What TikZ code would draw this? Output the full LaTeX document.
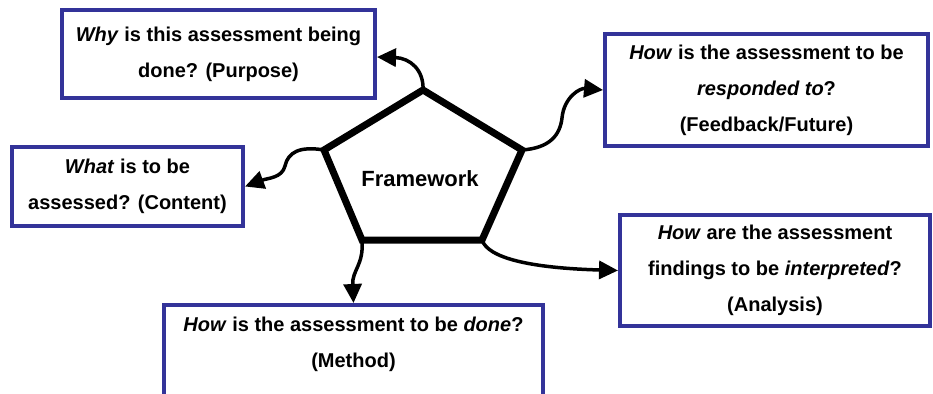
\documentclass[tikz,border=0pt]{standalone}
\usepackage{fontspec}
\setmainfont{Liberation Sans}
\usepackage{xcolor}
\usepackage{tikz}
\usetikzlibrary{arrows.meta}
\definecolor{qblue}{RGB}{51,51,153}
\tikzset{
  qbox/.style={draw=qblue,line width=4pt,fill=white,align=center,
              font=\fontsize{20}{36}\selectfont\bfseries,inner sep=0pt},
  pent/.style={line width=7pt,line join=miter},
  link/.style={-{Triangle[length=19pt,width=18pt]},line width=3.5pt},
}

\begin{document}
\begin{tikzpicture}[x=1pt,y=-1pt]
  \useasboundingbox (0,0) rectangle (933,393);
  % pentagon corners
  \coordinate (ptop) at (423,90);
  \coordinate (pright) at (522,150);
  \coordinate (pbr) at (482,240);
  \coordinate (pbl) at (362,240);
  \coordinate (pleft) at (324,150);
  \draw[pent] (ptop) -- (pright) -- (pbr) -- (pbl) -- (pleft) -- cycle;
  \node[font=\fontsize{22}{26}\selectfont\bfseries] (fw) at (420,179) {Framework};

  % the five questions
  \node[qbox,minimum width=313pt,minimum height=88pt] (why) at (218.5,54)
    {\textit{Why} is this assessment being\\done? (Purpose)};
  \node[qbox,minimum width=323pt,minimum height=112pt] (resp) at (766.5,90)
    {\textit{How} is the assessment to be\\\textit{responded to}?\\(Feedback/Future)};
  \node[qbox,minimum width=231pt,minimum height=79pt] (what) at (127.5,186.5)
    {\textit{What} is to be\\assessed? (Content)};
  \node[qbox,minimum width=379pt,minimum height=110pt] (method) at (353.5,360)
    {\textit{How} is the assessment to be \textit{done}?\\(Method)\\\mbox{}};
  \node[qbox,minimum width=310pt,minimum height=111pt] (ana) at (775,270.5)
    {\textit{How} are the assessment\\findings to be \textit{interpreted}?\\(Analysis)};

  \draw[link] (ptop) .. controls (424,70) and (410,58) .. ([yshift=-3pt]why.east);
  \draw[link] (pright) .. controls (550,148) and (560,135) .. (562,118)
    .. controls (564,97) and (580,88) .. (resp.west);
  \draw[link] (pleft) .. controls (300,146) and (288,152) .. (285,166)
    .. controls (282,178) and (268,178) .. (what.east);
  \draw[link] (pbl) .. controls (364,265) and (352,270) .. (method.north);
  \draw[link] (pbr) .. controls (488,258) and (530,268) .. (ana.west);
\end{tikzpicture}
\end{document}
